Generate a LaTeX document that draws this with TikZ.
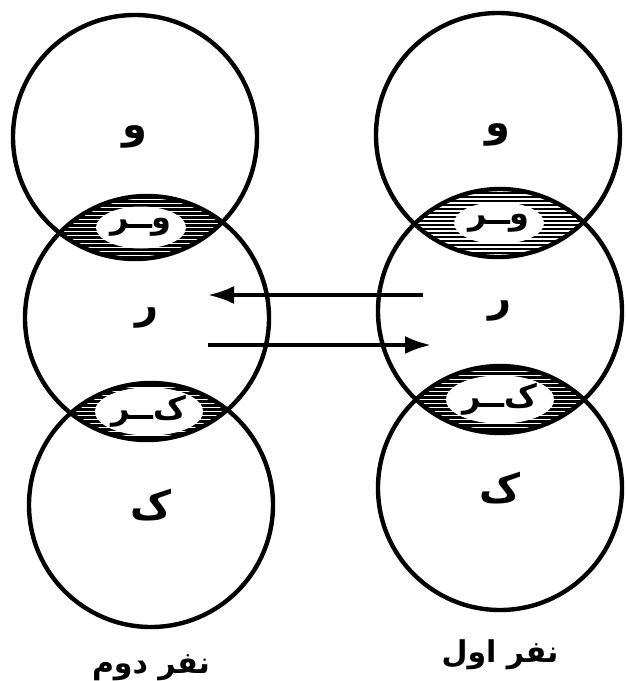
\documentclass[tikz,border=0pt]{standalone}
\usepackage{fontspec}
\newfontfamily\arabicfont[Script=Arabic]{DejaVu Sans}
\TeXXeTstate=1
\usetikzlibrary{positioning,arrows.meta,calc,backgrounds,shapes.geometric}

\begin{document}
\begin{tikzpicture}[x=0.5pt,y=-0.5pt,>=Latex,font=\arabicfont\bfseries\fontsize{15}{17}\selectfont]
\tikzstyle{ring}=[draw,circle,line width=2.2pt,minimum size=122pt,inner sep=0pt,font=\arabicfont\bfseries\fontsize{20}{22}\selectfont]
\tikzstyle{lensbox}=[ellipse,fill=white,minimum width=37pt,minimum height=21pt,inner sep=0.5pt,font=\arabicfont\bfseries\fontsize{16}{18}\selectfont]
\tikzstyle{msg}=[-{Latex[length=13pt,width=9pt]},line width=1.8pt]
\useasboundingbox (0,0) rectangle (626,681);
% left person
\node[ring] (l1) at (135,137) {\beginR و\endR};
\node[ring] (l2) at (147,318) {\beginR ر\endR};
\node[ring] (l3) at (151,505) {\beginR ک\endR};
% right person
\node[ring] (r1) at (498,135) {\beginR و\endR};
\node[ring] (r2) at (500,311) {\beginR ر\endR};
\node[ring] (r3) at (500,488) {\beginR ک\endR};
% hatched overlaps
\begin{scope}[on background layer]
\foreach \a/\b in {l1/l2,l2/l3,r1/r2,r2/r3}{
  \begin{scope}
    \clip (\a) circle[radius=61pt];
    \clip (\b) circle[radius=61pt];
    \begin{scope}[shift={($(\a)!0.5!(\b)$)}]
      \foreach \d in {-42,-38,...,42} \draw[line width=1.25pt] (-110,\d) -- (110,\d);
    \end{scope}
  \end{scope}
}
\end{scope}
\node[lensbox] (l12) at ($(l1)!0.5!(l2)$) {\beginR وــر\endR};
\node[lensbox] (l23) at ($(l2)!0.5!(l3)$) {\beginR ک^^^^200cــر\endR};
\node[lensbox] (r12) at ($(r1)!0.5!(r2)$) {\beginR وــر\endR};
\node[lensbox] (r23) at ($(r2)!0.5!(r3)$) {\beginR ک^^^^200cــر\endR};
% messages
\coordinate (up1) at (423,295);
\coordinate (up2) at (208,295);
\coordinate (dn1) at (208,345);
\coordinate (dn2) at (431,345);
\draw[msg] (up1) -- (up2);
\draw[msg] (dn1) -- (dn2);
\node[below=9pt of l3] (p2) {\beginR نفر دوم\endR};
\node[below=10pt of r3] (p1) {\beginR نفر اول\endR};
\end{tikzpicture}
\end{document}
